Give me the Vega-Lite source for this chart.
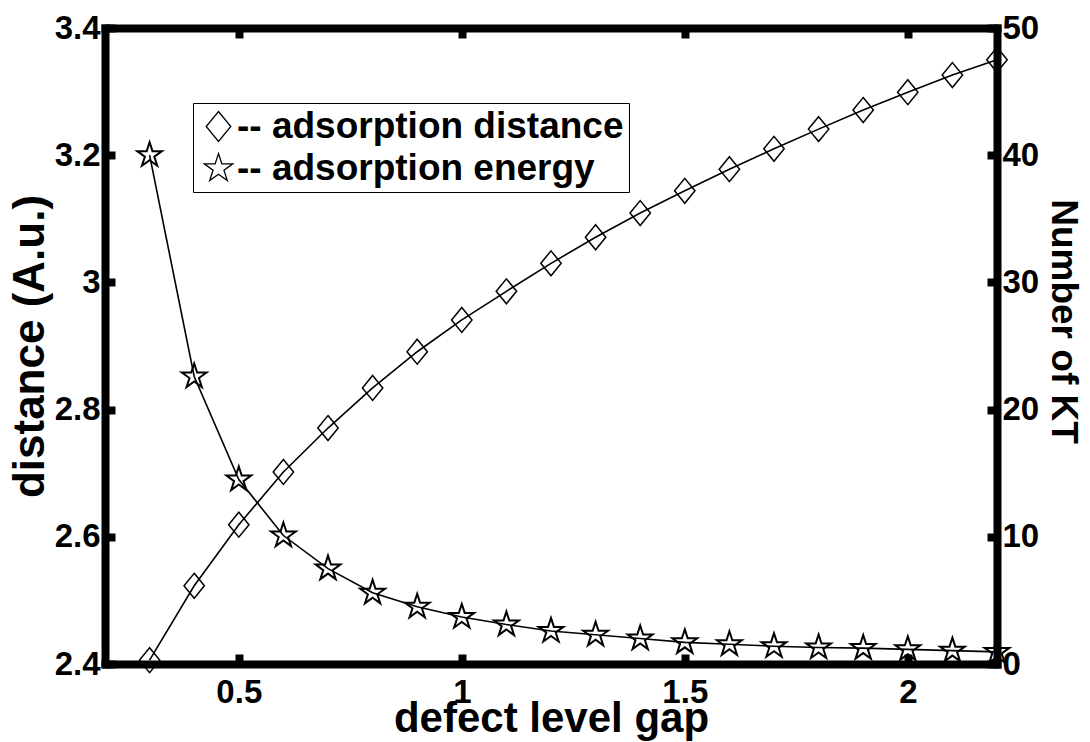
{
  "$schema": "https://vega.github.io/schema/vega-lite/v6.json",
  "width": 892,
  "height": 636,
  "autosize": "none",
  "padding": {"left": 105, "top": 28, "right": 93, "bottom": 78},
  "background": "white",
  "config": {
    "view": {"stroke": null},
    "font": "Liberation Sans",
    "axis": {
      "grid": false,
      "domainColor": "black",
      "domainWidth": 8,
      "domainCap": "square",
      "tickColor": "black",
      "tickWidth": 8,
      "tickSize": -10,
      "labelFont": "Liberation Sans",
      "labelFontSize": 33,
      "labelFontWeight": "bold",
      "labelColor": "black",
      "titleFont": "Liberation Sans",
      "titleFontSize": 37,
      "titleFontWeight": "bold",
      "titleColor": "black",
      "labelFlush": false,
      "labelOverlap": false
    }
  },
  "data": {
    "values": [
      {"gap": 0.3, "distance": 2.406, "energy": 40.0},
      {"gap": 0.4, "distance": 2.523, "energy": 22.6},
      {"gap": 0.5, "distance": 2.619, "energy": 14.5},
      {"gap": 0.6, "distance": 2.702, "energy": 10.1},
      {"gap": 0.7, "distance": 2.771, "energy": 7.5},
      {"gap": 0.8, "distance": 2.834, "energy": 5.6},
      {"gap": 0.9, "distance": 2.891, "energy": 4.5},
      {"gap": 1.0, "distance": 2.941, "energy": 3.7},
      {"gap": 1.1, "distance": 2.986, "energy": 3.1},
      {"gap": 1.2, "distance": 3.030, "energy": 2.6},
      {"gap": 1.3, "distance": 3.071, "energy": 2.3},
      {"gap": 1.4, "distance": 3.109, "energy": 2.0},
      {"gap": 1.5, "distance": 3.144, "energy": 1.7},
      {"gap": 1.6, "distance": 3.178, "energy": 1.55},
      {"gap": 1.7, "distance": 3.210, "energy": 1.4},
      {"gap": 1.8, "distance": 3.241, "energy": 1.3},
      {"gap": 1.9, "distance": 3.271, "energy": 1.25},
      {"gap": 2.0, "distance": 3.299, "energy": 1.15},
      {"gap": 2.1, "distance": 3.326, "energy": 1.05},
      {"gap": 2.2, "distance": 3.350, "energy": 0.95}
    ]
  },
  "layer": [
    {
      "layer": [
        {
          "mark": {"type": "line", "color": "black", "strokeWidth": 1.6},
          "encoding": {
            "x": {"field": "gap", "type": "quantitative", "scale": {"domain": [0.2, 2.2], "nice": false, "zero": false},
              "axis": {"orient": "bottom", "values": [0.5, 1, 1.5, 2], "format": "~g", "title": "defect level gap", "titleFontSize": 42, "labelPadding": 22, "titlePadding": -11}},
            "y": {"field": "distance", "type": "quantitative", "scale": {"domain": [2.4, 3.4], "nice": false, "zero": false},
              "axis": {"orient": "left", "values": [2.4, 2.6, 2.8, 3, 3.2, 3.4], "format": "~g", "title": "distance (A.u.)", "titleFontSize": 44, "labelPadding": 15, "titlePadding": 2}}
          }
        },
        {
          "mark": {"type": "point", "filled": false, "color": "black", "strokeWidth": 1.5, "size": 620, "opacity": 1},
          "encoding": {
            "x": {"field": "gap", "type": "quantitative"},
            "y": {"field": "distance", "type": "quantitative"},
            "shape": {
              "datum": "-- adsorption distance",
              "type": "nominal",
              "scale": {
                "domain": ["-- adsorption distance", "-- adsorption energy"],
                "range": [
                  "M0,-1L0.82,0L0,1L-0.82,0Z",
                  "M0,-1L0.2245,-0.309L0.951,-0.309L0.363,0.118L0.588,0.809L0,0.382L-0.588,0.809L-0.363,0.118L-0.951,-0.309L-0.2245,-0.309Z"
                ]
              },
              "legend": {
                "orient": "none",
                "legendX": 88,
                "legendY": 75,
                "title": null,
                "strokeColor": "black",
                "fillColor": "white",
                "padding": 5,
                "symbolOffset": 2,
                "labelFont": "Liberation Sans",
                "labelFontSize": 37,
                "labelFontWeight": "bold",
                "labelColor": "black",
                "labelLimit": 0,
                "labelOffset": 0,
                "symbolSize": 900,
                "symbolStrokeColor": "black",
                "symbolFillColor": "white",
                "symbolStrokeWidth": 1.3,
                "rowPadding": 4
              }
            }
          }
        }
      ]
    },
    {
      "layer": [
        {
          "mark": {"type": "line", "color": "black", "strokeWidth": 1.6},
          "encoding": {
            "x": {"field": "gap", "type": "quantitative",
              "axis": {"orient": "top", "values": [0.5, 1, 1.5, 2], "labels": false, "title": null}},
            "y": {"field": "energy", "type": "quantitative", "scale": {"domain": [0, 50], "nice": false, "zero": false},
              "axis": {"orient": "right", "values": [0, 10, 20, 30, 40, 50], "title": "Number of KT", "labelPadding": 15, "titlePadding": 5, "titleY": 293}}
          }
        },
        {
          "mark": {"type": "point", "filled": false, "color": "black", "strokeWidth": 2, "size": 676, "opacity": 1},
          "encoding": {
            "x": {"field": "gap", "type": "quantitative"},
            "y": {"field": "energy", "type": "quantitative"},
            "shape": {"datum": "-- adsorption energy", "type": "nominal"}
          }
        }
      ]
    }
  ],
  "resolve": {"scale": {"y": "independent"}, "axis": {"x": "independent", "y": "independent"}}
}
